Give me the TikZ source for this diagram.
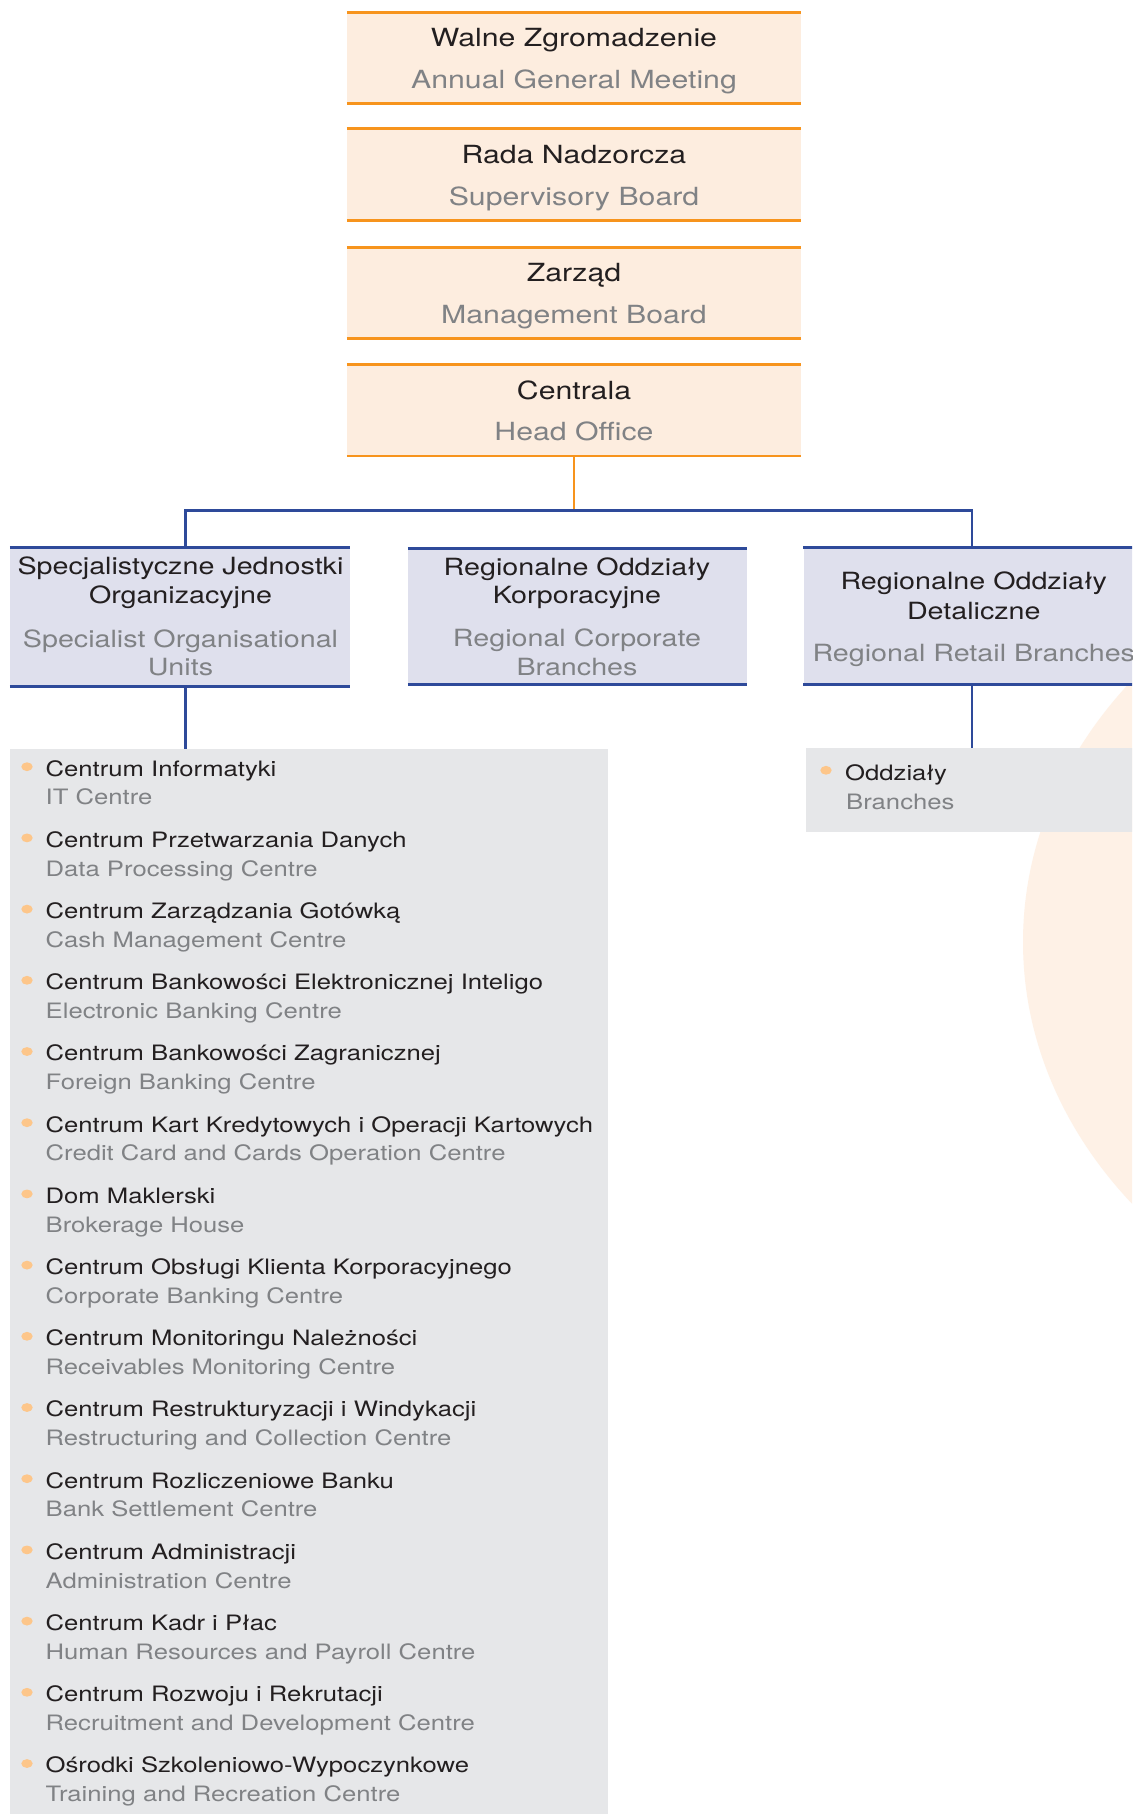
\documentclass[tikz,border=0pt]{standalone}
\usepackage{fontspec}
\setmainfont[FakeStretch=1.21]{TeX Gyre Heros}
\usetikzlibrary{shapes.geometric}
\definecolor{peach}{HTML}{FDEDDF}
\definecolor{orangeln}{HTML}{F7941D}
\definecolor{blueln}{HTML}{2E4A9A}
\definecolor{lav}{HTML}{DFE0ED}
\definecolor{listbg}{HTML}{E6E7E9}
\definecolor{bulletc}{HTML}{FDC68A}
\definecolor{circlec}{HTML}{FEF1E6}
\definecolor{tdark}{HTML}{231F20}
\definecolor{tgray}{HTML}{808285}
\newcommand\sizeA{\fontsize{25}{30}\selectfont}
\newcommand\sizeB{\fontsize{23.7}{28}\selectfont}
\newcommand\sizeC{\fontsize{21.2}{25}\selectfont}
\tikzset{
  tbox/.style={fill=peach, draw=none, minimum width=454pt, minimum height=91pt, inner sep=0pt},
  mbox/.style={fill=lav, draw=none, inner sep=0pt},
  lbox/.style={fill=listbg, draw=none, inner sep=0pt},
  oline/.style={draw=orangeln, line width=2.8pt},
  bline/.style={draw=blueln, line width=3pt},
  oconn/.style={draw=orangeln, line width=2.5pt},
  bconn/.style={draw=blueln, line width=2.5pt},
  pltxt/.style={inner sep=0pt, anchor=base, text=tdark},
  entxt/.style={inner sep=0pt, anchor=base, text=tgray},
  bulletn/.style={ellipse, fill=bulletc, draw=none, inner sep=0pt, minimum width=11.4pt, minimum height=8.8pt},
}
\begin{document}
\begin{tikzpicture}[x=1pt, y=-1pt]
\path[use as bounding box, clip] (0,0) rectangle (1132,1814);
\fill[white] (0,0) rectangle (1132,1814);
% decorative circle
\fill[circlec] (1537,942) ellipse [x radius=514, y radius=425];

% top boxes
\node[tbox] (agm) at (574,58.2) {};
\node[tbox] (sb)  at (574,174.5) {};
\node[tbox] (mb)  at (574,292.8) {};
\node[tbox] (ho)  at (574,410.2) {};
\foreach \n in {agm,sb,mb,ho} {
  \draw[oline] (\n.north west) -- (\n.north east);
  \draw[oline] (\n.south west) -- (\n.south east);
}
\node[pltxt] (agmP) at (574,46.7) {\sizeA Walne Zgromadzenie};
\node[entxt] (agmE) at (574,88.7) {\sizeA Annual General Meeting};
\node[pltxt] (sbP) at (574,163.3) {\sizeA Rada Nadzorcza};
\node[entxt] (sbE) at (574,205.5) {\sizeA Supervisory Board};
\node[pltxt] (mbP) at (574,281.5) {\sizeA Zarząd};
\node[entxt] (mbE) at (574,323.5) {\sizeA Management Board};
\node[pltxt] (hoP) at (574,399.3) {\sizeA Centrala};
\node[entxt] (hoE) at (574,440.7) {\sizeA Head Office};

% middle boxes
\node[mbox, minimum width=340pt, minimum height=139.2pt] (spec) at (180,616.9) {};
\node[mbox, minimum width=339pt, minimum height=135pt] (corp) at (577.5,616.5) {};
\node[mbox, minimum width=337pt, minimum height=137pt] (ret) at (972,615.8) {};
\foreach \n in {spec,corp,ret} {
  \draw[bline] (\n.north west) -- (\n.north east);
  \draw[bline] (\n.south west) -- (\n.south east);
}
\node[pltxt] (specP1) at (180.5,574) {\sizeB Specjalistyczne Jednostki};
\node[pltxt] (specP2) at (180.5,603.3) {\sizeB Organizacyjne};
\node[entxt] (specE1) at (180.5,647.3) {\sizeB Specialist Organisational};
\node[entxt] (specE2) at (180.5,675) {\sizeB Units};
\node[pltxt] (corpP1) at (577,575) {\sizeB Regionalne Oddziały};
\node[pltxt] (corpP2) at (577,603.5) {\sizeB Korporacyjne};
\node[entxt] (corpE1) at (577,646.7) {\sizeB Regional Corporate};
\node[entxt] (corpE2) at (577,675) {\sizeB Branches};
\node[pltxt] (retP1) at (973.8,589) {\sizeB Regionalne Oddziały};
\node[pltxt] (retP2) at (973.8,619.5) {\sizeB Detaliczne};
\node[entxt] (retE1) at (973.8,661.5) {\sizeB Regional Retail Branches};

% connectors
\coordinate (bus) at (574,510.7);
\draw[oconn] (ho.south) -- (bus);
\draw[bconn] ([xshift=5.5pt]spec.north) |- (bus) -| (ret.north);

% list boxes
\node[lbox, minimum width=597.2pt, minimum height=1071pt] (speclist) at (309,1284.5) {};
\node[lbox, minimum width=334pt, minimum height=83.4pt] (retlist) at (973,790) {};
\draw[bconn] ([xshift=5.5pt]spec.south) -- ([xshift=5.5pt]spec.south |- speclist.north);
\draw[bconn] (ret.south) -- (ret.south |- retlist.north);

% specialist list
\foreach \ptxt/\etxt [count=\i from 0] in {
  Centrum Informatyki/IT Centre,
  Centrum Przetwarzania Danych/Data Processing Centre,
  Centrum Zarządzania Gotówką/Cash Management Centre,
  Centrum Bankowości Elektronicznej Inteligo/Electronic Banking Centre,
  Centrum Bankowości Zagranicznej/Foreign Banking Centre,
  Centrum Kart Kredytowych i Operacji Kartowych/Credit Card and Cards Operation Centre,
  Dom Maklerski/Brokerage House,
  Centrum Obsługi Klienta Korporacyjnego/Corporate Banking Centre,
  Centrum Monitoringu Należności/Receivables Monitoring Centre,
  Centrum Restrukturyzacji i Windykacji/Restructuring and Collection Centre,
  Centrum Rozliczeniowe Banku/Bank Settlement Centre,
  Centrum Administracji/Administration Centre,
  Centrum Kadr i Płac/Human Resources and Payroll Centre,
  Centrum Rozwoju i Rekrutacji/Recruitment and Development Centre,
  Ośrodki Szkoleniowo-Wypoczynkowe/Training and Recreation Centre} {
  \pgfmathsetmacro\yb{776+71.2*\i}
  \node[bulletn] (bul\i) at (27,\yb-9.3) {};
  \node[pltxt, anchor=base west] (itemP\i) at (45.5,\yb) {\sizeC \ptxt};
  \node[entxt, anchor=base west] (itemE\i) at (45.5,\yb+28.8) {\sizeC \etxt};
}

% retail list
\node[bulletn] (bulR) at (826,770.3) {};
\node[pltxt, anchor=base west] (oddP) at (845,780) {\sizeC Oddziały};
\node[entxt, anchor=base west] (oddE) at (846,809.5) {\sizeC Branches};
\end{tikzpicture}
\end{document}
